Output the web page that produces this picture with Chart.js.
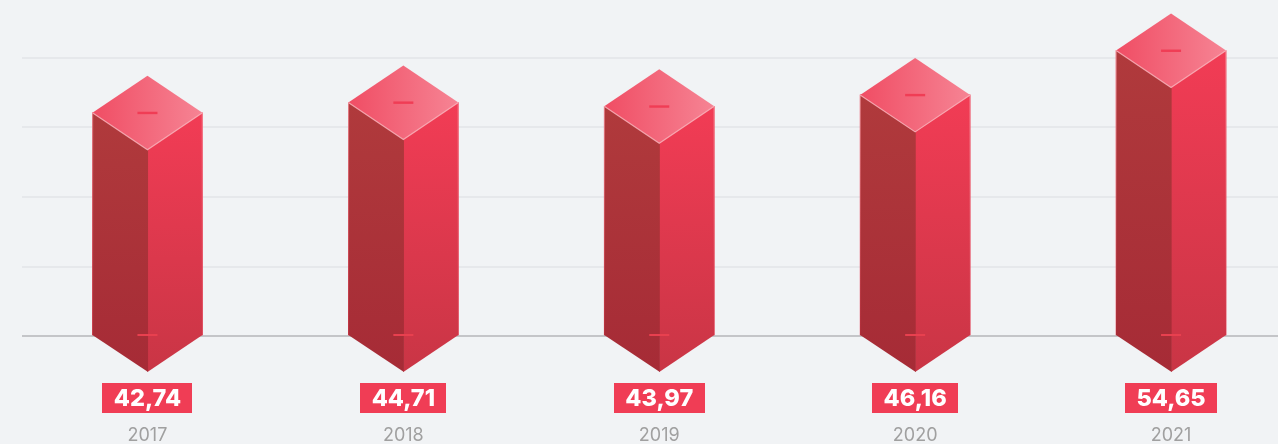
<!DOCTYPE html>
<html><head><meta charset="utf-8">
<style>html,body{margin:0;padding:0;background:#f1f3f5;overflow:hidden;width:1278px;height:444px}canvas{display:block}</style>
<script src="https://cdn.jsdelivr.net/npm/chart.js@4"></script></head>
<body><canvas id="c" width="1299" height="444"></canvas>
<script>
const categories = ['2017','2018','2019','2020','2021'];
const seriesValues = [42.74,44.71,43.97,46.16,54.65];
const gridValues = [0,13.28,26.66,40.05,53.3];
const valueLabels = ['42,74','44,71','43,97','46,16','54,65'];

const HALF_W = 55, HALF_H = 37;
function poly(ctx, pts){ctx.beginPath();pts.forEach((p,i)=>i?ctx.lineTo(p[0],p[1]):ctx.moveTo(p[0],p[1]));ctx.closePath();}
function vGrad(ctx,y0,y1,a,b){const g=ctx.createLinearGradient(0,y0,0,y1);g.addColorStop(0,a);g.addColorStop(1,b);return g;}
const prism = {
  id:'prism',
  beforeDatasetsDraw(chart){
    chart.ctx.fillStyle='#f1f3f5';
    chart.ctx.fillRect(0,0,22,chart.chartArea.bottom+2);
  },
  afterDatasetsDraw(chart){
    const ctx = chart.ctx, meta = chart.getDatasetMeta(0);
    meta.data.forEach((bar,i)=>{
      const x=bar.x, y=bar.y, b=bar.base;
      const L=x-HALF_W, R=x+HALF_W;
      ctx.save();
      poly(ctx,[[x,y+HALF_H],[R,y],[R,b],[x,b+HALF_H]]);
      ctx.fillStyle=vGrad(ctx,y,b+HALF_H,'#f23c55','#c93545');ctx.fill();
      poly(ctx,[[L,y],[x+0.6,y+HALF_H],[x+0.6,b+HALF_H],[L,b]]);
      ctx.fillStyle=vGrad(ctx,y,b+HALF_H,'#b03a3c','#a62b36');ctx.fill();
      poly(ctx,[[x,y-HALF_H],[R,y],[x,y+HALF_H],[L,y]]);
      const tg=ctx.createLinearGradient(L,y,R,y);tg.addColorStop(0,'#f04d64');tg.addColorStop(1,'#f68494');
      ctx.fillStyle=tg;ctx.fill();
      // light edges
      ctx.lineWidth=1.2;
      ctx.strokeStyle='rgba(250,185,192,0.8)';
      ctx.beginPath();ctx.moveTo(L,y);ctx.lineTo(x,y+HALF_H);ctx.lineTo(R,y);ctx.stroke();
      ctx.strokeStyle=vGrad(ctx,y,b,'rgba(248,170,178,0.6)','rgba(240,130,140,0)');ctx.lineWidth=1;
      ctx.beginPath();ctx.moveTo(L+0.2,y);ctx.lineTo(L+0.2,b);ctx.moveTo(R-0.2,y);ctx.lineTo(R-0.2,b);ctx.stroke();
      // dashes
      ctx.fillStyle='#f03d55';
      ctx.fillRect(x-10,y-1,20,2.4);
      ctx.fillStyle='#e8404f';
      ctx.fillRect(x-10,b-1,20,2);
      // badge
      ctx.font='800 23.5px Inter, sans-serif';
      const tw=ctx.measureText(valueLabels[i]).width;
      const w=tw+23;
      ctx.fillStyle='#f03d55';
      ctx.fillRect(Math.round(x-w/2),383,Math.round(w),30);
      ctx.fillStyle='#fff';ctx.textAlign='center';ctx.textBaseline='middle';
      ctx.fillText(valueLabels[i],x,398.5);
      ctx.restore();
    });
  }
};
new Chart(document.getElementById('c'),{
  type:'bar',
  data:{labels:categories,datasets:[{data:seriesValues,backgroundColor:'#e83a50',barThickness:110,borderWidth:0}]},
  plugins:[prism],
  options:{
    responsive:false,animation:false,
    layout:{padding:{left:19.5,right:0,top:22.6,bottom:0}},
    plugins:{legend:{display:false},tooltip:{enabled:false}},
    scales:{
      x:{
        grid:{display:false,drawTicks:false},border:{display:false},
        ticks:{color:'#a0a0a0',font:{family:'Inter, sans-serif',size:18},padding:89,maxRotation:0,autoSkip:false},
        afterFit(a){a.height=108;}
      },
      y:{
        min:0,max:60,
        afterBuildTicks(a){a.ticks=gridValues.map(v=>({value:v}));},
        afterFit(a){a.width=0;},
        ticks:{display:false},
        border:{display:false},
        grid:{drawTicks:false,lineWidth:2,color:c=>c.tick&&c.tick.value===0?'#c4c5c8':'#e6e8eb'}
      }
    }
  }
});
</script></body></html>
